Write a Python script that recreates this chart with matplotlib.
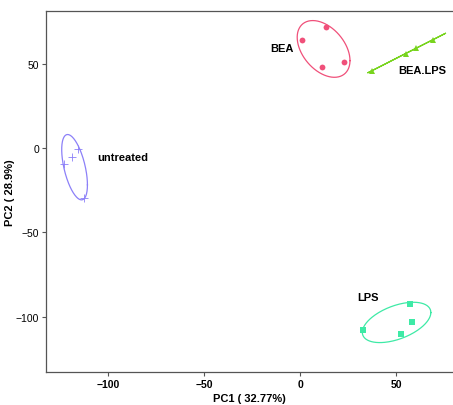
"""PCA score plot with per-group confidence ellipses."""

import matplotlib

matplotlib.use("Agg")

import matplotlib.pyplot as plt
import numpy as np

plt.rcParams["font.family"] = ["Liberation Sans", "DejaVu Sans"]

GROUPS = ["BEA", "BEA.LPS", "LPS", "untreated"]

BEA_PC1 = [13.4, 0.7, 11.5, 22.9]
BEA_PC2 = [71.7, 64.2, 48.2, 50.8]

BEA_LPS_PC1 = [37.2, 54.9, 60.1, 69.0]
BEA_LPS_PC2 = [45.8, 56.0, 59.0, 64.2]

LPS_PC1 = [57.1, 58.2, 52.4, 32.8]
LPS_PC2 = [-92.4, -102.9, -110.4, -107.6]

UNTREATED_PC1 = [-122.9, -118.9, -115.8, -112.5]
UNTREATED_PC2 = [-9.5, -5.5, -0.6, -29.8]

PC1_LABEL = "PC1 ( 32.77%)"
PC2_LABEL = "PC2 ( 28.9%)"
X_TICKS = [-100, -50, 0, 50]
Y_TICKS = [-100, -50, 0, 50]

# group -> (colour, marker, marker size, label x, label y, label alignment)
STYLES = {
    "BEA": ("#f0507a", "o", 4.2, -3.5, 59.5, "right"),
    "BEA.LPS": ("#78d41e", "^", 4.2, 63.3, 46.0, "center"),
    "LPS": ("#3eeaa6", "s", 4.0, 35.3, -88.0, "center"),
    "untreated": ("#8c80f8", "+", 6.0, -105.5, -5.5, "left"),
}

ELLIPSE_PROB = 0.68


def _ellipse(x: np.ndarray, y: np.ndarray) -> tuple[np.ndarray, np.ndarray]:
    """Normal-theory ellipse around a group of scores (ggbiplot style)."""
    data = np.column_stack([x, y])
    centre = data.mean(axis=0)
    sigma = np.cov(data, rowvar=False)
    radius = np.sqrt(-2.0 * np.log(1.0 - ELLIPSE_PROB))
    theta = np.linspace(0, 2 * np.pi, 200)
    circle = np.column_stack([np.cos(theta), np.sin(theta)])
    try:
        chol = np.linalg.cholesky(sigma).T
    except np.linalg.LinAlgError:
        chol = np.linalg.cholesky(sigma + np.eye(2) * 1e-6).T
    pts = circle @ chol * radius + centre
    return pts[:, 0], pts[:, 1]


def plot_pca_scores() -> None:
    """Draw the PCA score plot."""
    scores = {
        "BEA": (BEA_PC1, BEA_PC2),
        "BEA.LPS": (BEA_LPS_PC1, BEA_LPS_PC2),
        "LPS": (LPS_PC1, LPS_PC2),
        "untreated": (UNTREATED_PC1, UNTREATED_PC2),
    }

    fig = plt.figure(figsize=(4.53, 4.06), dpi=100)
    ax = fig.add_axes([46 / 453, 33 / 406, 407 / 453, 361 / 406])

    for group in GROUPS:
        pc1, pc2 = np.asarray(scores[group][0]), np.asarray(scores[group][1])
        colour, marker, size, lx, ly, ha = STYLES[group]

        ex, ey = _ellipse(pc1, pc2)
        ax.plot(ex, ey, color=colour, linewidth=0.9)
        ax.plot(
            pc1,
            pc2,
            linestyle="none",
            marker=marker,
            markersize=size,
            color=colour,
            markeredgewidth=0.6 if marker == "+" else 0,
        )
        ax.text(lx, ly, group, ha=ha, va="center", fontsize=8, fontweight="bold")

    ax.set_xlim(-132.4, 79.5)
    ax.set_ylim(-132.7, 81.2)
    ax.set_xticks(X_TICKS)
    ax.set_yticks(Y_TICKS)
    ax.set_xticklabels([f"\u2212{-t}" if t < 0 else str(t) for t in X_TICKS],
                       fontweight="bold", fontsize=7.5)
    ax.set_yticklabels([f"\u2212{-t}" if t < 0 else str(t) for t in Y_TICKS],
                       fontsize=7.5)
    ax.set_xlabel(PC1_LABEL, fontsize=8, fontweight="bold", labelpad=3)
    ax.set_ylabel(PC2_LABEL, fontsize=8, fontweight="bold", labelpad=0.5)

    ax.spines["right"].set_visible(False)
    for side in ("left", "bottom", "top"):
        ax.spines[side].set_color("#555555")
        ax.spines[side].set_linewidth(0.9)
    ax.tick_params(length=3, width=0.8, color="#555555", pad=2)

    fig.savefig("out.png", dpi=100)
    plt.close(fig)


if __name__ == "__main__":
    plot_pca_scores()
